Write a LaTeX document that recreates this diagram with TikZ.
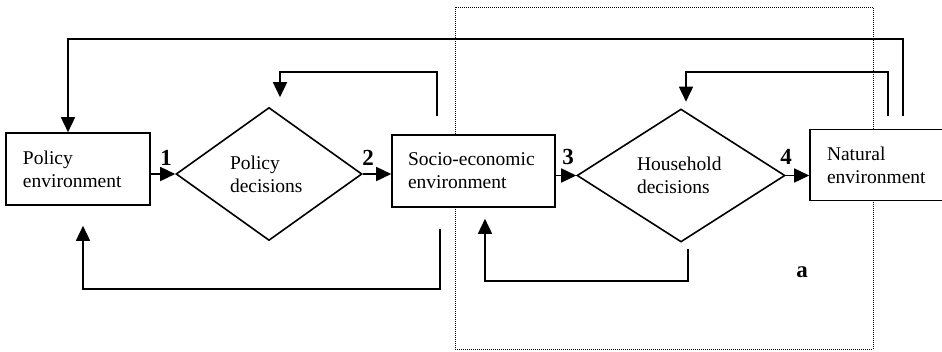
\documentclass[tikz,border=0pt]{standalone}
\usepackage{fontspec}
\setmainfont{Liberation Serif}
\usetikzlibrary{shapes.geometric,arrows.meta}
\begin{document}
\begin{tikzpicture}[x=1pt,y=-1pt,
  box/.style={draw, fill=white, line width=1.6pt, rectangle, minimum height=72pt, align=left,
    font=\fontsize{19.5}{23}\selectfont, inner ysep=0pt},
  dia/.style={draw, line width=1.6pt, diamond, inner sep=0pt, align=left,
    font=\fontsize{19.5}{23}\selectfont},
  arr/.style={line width=1.6pt, -{Triangle[length=15pt,width=14pt]}},
  num/.style={font=\fontsize{23}{23}\selectfont\bfseries, inner sep=0pt, anchor=base}]
\useasboundingbox (0,0) rectangle (942,351);
% dotted region
\draw[line width=1pt, dash pattern=on 1pt off 1pt] (455,7) rectangle (873,349);
% nodes
\node[box, minimum width=144pt, inner xsep=17pt, text width=110pt] (pe) at (78,169) {Policy\\environment};
\node[dia, minimum width=186pt, minimum height=133pt, text width=78pt] (pd) at (269,174) {Policy\\decisions};
\node[box, minimum width=163pt, inner xsep=16pt, text width=131pt] (se) at (473.5,171) {Socio-economic\\environment};
\node[dia, minimum width=208pt, minimum height=133pt, text width=88pt] (hd) at (681,175.5) {Household\\decisions};
\node[box, minimum width=134pt, minimum height=71pt, inner xsep=17pt, text width=100pt] (ne) at (877,165) {Natural\\environment};
% forward arrows
\draw[arr] (pd.west -| pe.east) -- (pd.west);
\draw[arr] (pd.east) -- (pd.east -| se.west);
\draw[arr] (hd.west -| se.east) -- (hd.west);
\draw[arr] (hd.east) -- (hd.east -| ne.west);
% numbers
\node[num] (n1) at (166,165) {1};
\node[num] (n2) at (368,165) {2};
\node[num] (n3) at (568,164) {3};
\node[num] (n4) at (786,164) {4};
\node[num] (la) at (802,277) {a};
% feedback loops
\coordinate (top) at (68,39);
\draw[arr] ([xshift=26pt,yshift=12.5pt]ne.north) |- (top) -- ([xshift=-10pt]pe.north);
\coordinate (pl) at (280,72);
\draw[arr] ([xshift=-36.5pt,yshift=18pt]se.north) |- (pl) -- ([xshift=11pt,yshift=9.5pt]pd.north);
\coordinate (hl) at (686,72);
\draw[arr] ([xshift=11pt,yshift=12.5pt]ne.north) |- (hl) -- ([xshift=5pt,yshift=6.5pt]hd.north);
\coordinate (bp) at (83,289);
\draw[arr] ([xshift=-33.5pt,yshift=-21pt]se.south) |- (bp) -- ([xshift=5pt,yshift=-20pt]pe.south);
\coordinate (bh) at (485,281);
\draw[arr] ([xshift=7pt,yshift=-6pt]hd.south) |- (bh) -- ([xshift=11.5pt,yshift=-11pt]se.south);
\end{tikzpicture}
\end{document}
